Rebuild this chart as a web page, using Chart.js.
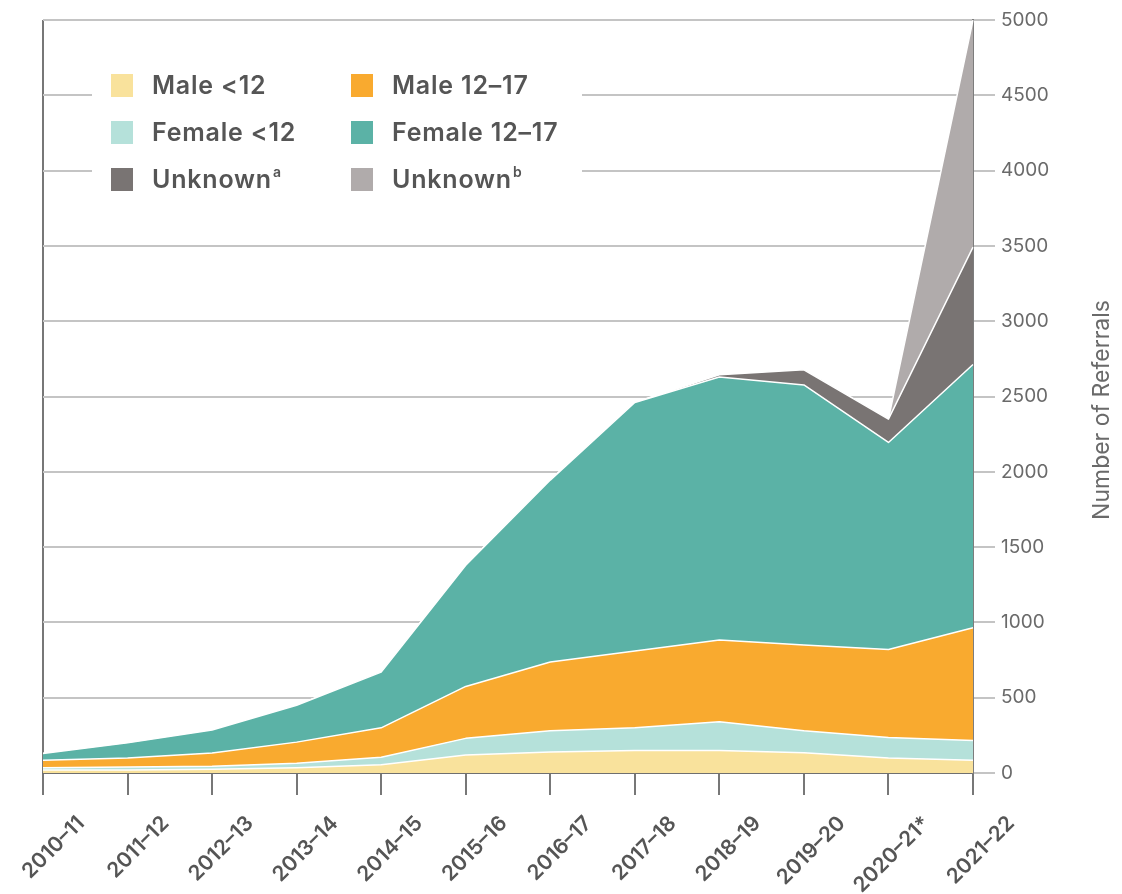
<!DOCTYPE html>
<html>
<head>
<meta charset="utf-8">
<script src="https://cdn.jsdelivr.net/npm/chart.js@4/dist/chart.umd.min.js"></script>
<style>
  html, body { margin: 0; padding: 0; background: #fff; }
</style>
</head>
<body>
<canvas id="referralsChart" width="1122" height="894"></canvas>
<script>
var years = ["2010–11", "2011–12", "2012–13", "2013–14", "2014–15", "2015–16",
             "2016–17", "2017–18", "2018–19", "2019–20", "2020–21*", "2021–22"];
var maleUnder12   = [20, 20, 25, 35, 55, 120, 140, 150, 150, 135, 100, 85];
var femaleUnder12 = [15, 20, 20, 30, 50, 110, 140, 150, 190, 145, 135, 130];
var male12to17    = [50, 60, 88, 140, 195, 345, 457, 510, 543, 570, 585, 750];
var female12to17  = [45, 100, 152, 245, 370, 805, 1208, 1650, 1747, 1727, 1375, 1747];
var unknownA      = [0, 0, 0, 0, 0, 0, 0, 0, 15, 100, 155, 780];
var unknownB      = [0, 0, 0, 0, 0, 0, 0, 0, 0, 0, 0, 1508];
var yTicks = [0, 500, 1000, 1500, 2000, 2500, 3000, 3500, 4000, 4500, 5000];

var FONT = "Inter, 'Noto Sans', sans-serif";

function area(label, data, colour, fill) {
  return {
    label: label,
    data: data,
    backgroundColor: colour,
    borderColor: "#ffffff",
    borderWidth: 1.5,
    pointRadius: 0,
    tension: 0,
    fill: fill
  };
}

// legend drawn by hand: two columns inside the plot, on a white patch over the grid
var legendItems = [
  { text: "Male <12", sup: "", colour: "#f9e29c", col: 0, row: 0 },
  { text: "Male 12–17", sup: "", colour: "#f9aa2f", col: 1, row: 0 },
  { text: "Female <12", sup: "", colour: "#b5e1da", col: 0, row: 1 },
  { text: "Female 12–17", sup: "", colour: "#5bb2a6", col: 1, row: 1 },
  { text: "Unknown", sup: "a", colour: "#797473", col: 0, row: 2 },
  { text: "Unknown", sup: "b", colour: "#b0abab", col: 1, row: 2 }
];

var boxLegend = {
  id: "boxLegend",
  afterDraw: function(chart) {
    var ctx = chart.ctx;
    ctx.save();
    ctx.fillStyle = "#ffffff";
    ctx.fillRect(92, 60, 490, 142);
    ctx.textBaseline = "middle";
    legendItems.forEach(function(it) {
      var x = it.col === 0 ? 111 : 351;
      var y = 85 + it.row * 47;
      ctx.fillStyle = it.colour;
      ctx.fillRect(x, y - 11, 22, 23);
      ctx.fillStyle = "#555555";
      ctx.font = "600 25px " + FONT;
      ctx.letterSpacing = "0.8px";
      ctx.fillText(it.text, x + 41, y + 1);
      if (it.sup) {
        var w = ctx.measureText(it.text).width;
        ctx.font = "600 14px " + FONT;
        ctx.letterSpacing = "0px";
        ctx.fillText(it.sup, x + 42 + w, y - 6);
      }
    });
    ctx.letterSpacing = "0px";
    // axis title on the right, reading upwards
    ctx.translate(1102, 410);
    ctx.rotate(-Math.PI / 2);
    ctx.textAlign = "center";
    ctx.fillStyle = "#6a6a6a";
    ctx.font = "400 23px " + FONT;
    ctx.fillText("Number of Referrals", 0, 0);
    ctx.restore();
  }
};

var ctx = document.getElementById("referralsChart").getContext("2d");
var chart = new Chart(ctx, {
  type: "line",
  data: {
    labels: years,
    datasets: [
      area("Male <12", maleUnder12, "#f9e29c", "origin"),
      area("Female <12", femaleUnder12, "#b5e1da", "-1"),
      area("Male 12–17", male12to17, "#f9aa2f", "-1"),
      area("Female 12–17", female12to17, "#5bb2a6", "-1"),
      area("Unknown a", unknownA, "#797473", "-1"),
      area("Unknown b", unknownB, "#b0abab", "-1")
    ]
  },
  options: {
    responsive: false,
    animation: false,
    layout: { padding: { left: 43, top: 20, right: 0, bottom: 0 } },
    plugins: {
      legend: { display: false },
      tooltip: { enabled: false }
    },
    elements: { line: { borderJoinStyle: "round" } },
    scales: {
      x: {
        offset: false,
        border: { display: true, color: "#6f6f6f", width: 2 },
        grid: {
          drawOnChartArea: true,
          color: function(c) { return c.index === 0 ? "#777777" : "rgba(0,0,0,0)"; },
          lineWidth: 2,
          tickColor: "#777777",
          tickLength: 22
        },
        ticks: {
          autoSkip: false,
          minRotation: 45,
          maxRotation: 45,
          color: "#555555",
          padding: 16,
          labelOffset: 38,
          font: { family: FONT, size: 21, weight: "600" }
        },
        afterFit: function(s) { s.height = 121; s.paddingLeft = 0; s.paddingRight = 0; }
      },
      y: {
        position: "right",
        stacked: true,
        min: 0,
        max: 5000,
        afterBuildTicks: function(s) { s.ticks = yTicks.map(function(v) { return { value: v }; }); },
        border: { display: true, color: "#7d7d7d", width: 2 },
        grid: {
          color: "#c4c4c4",
          lineWidth: 2,
          tickColor: "#c4c4c4",
          tickLength: 22
        },
        ticks: {
          color: "#6a6a6a",
          padding: 6,
          font: { family: FONT, size: 19 },
          callback: function(v) { return String(v); }
        },
        afterFit: function(s) { s.width = 149; s.paddingTop = 0; s.paddingBottom = 0; }
      }
    }
  },
  plugins: [boxLegend]
});
</script>
</body>
</html>
